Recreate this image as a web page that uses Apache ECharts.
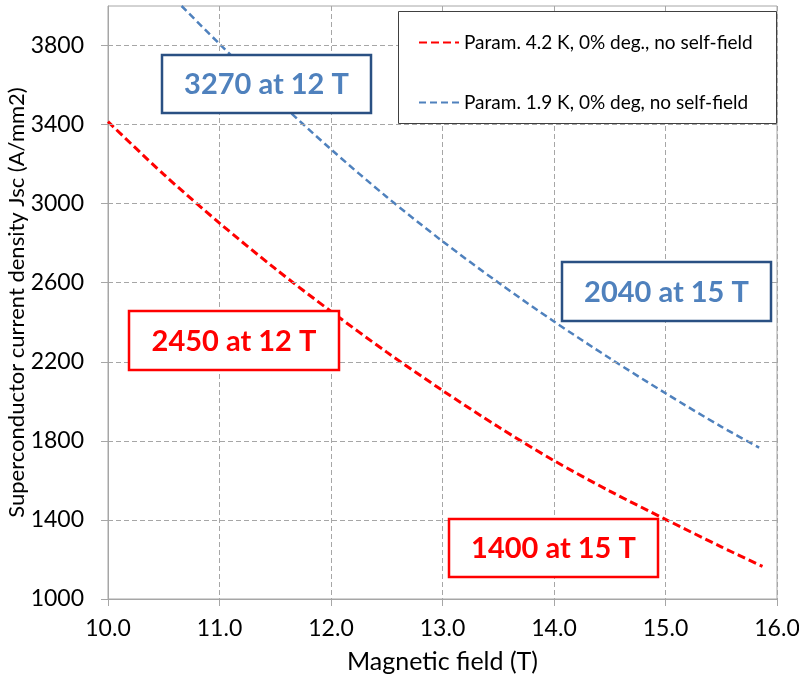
<!DOCTYPE html>
<html>
<head>
<meta charset="utf-8">
<script src="https://cdn.jsdelivr.net/npm/echarts@6/dist/echarts.min.js"></script>
<style>
html,body{margin:0;padding:0;background:#fff;}
#chart{width:799px;height:679px;}
</style>
</head>
<body>
<div id="chart"></div>
<script>
// Data
const redName = 'Param. 4.2 K, 0% deg., no self-field';
const blueName = 'Param. 1.9 K, 0% deg, no self-field';
const redField = [10, 10.5, 11, 11.5, 12, 12.5, 13, 13.5, 14, 14.5, 15, 15.5, 15.87];
const redJsc   = [3415, 3148, 2902, 2671, 2455, 2249, 2055, 1871, 1700, 1546, 1403, 1264, 1165];
const blueField = [10.66, 11, 11.5, 12, 12.5, 13, 13.5, 14, 14.5, 15, 15.5, 15.84];
const blueJsc   = [4000, 3808, 3533, 3275, 3034, 2810, 2601, 2404, 2218, 2041, 1872, 1766];
const yTicks = [1000, 1400, 1800, 2200, 2600, 3000, 3400, 3800];
const xMin = 10, xMax = 16, xStep = 1;
const yMin = 1000, yMax = 4000;
const notes = [
  {text: '3270 at 12 T', kind: 'blue'},
  {text: '2450 at 12 T', kind: 'red'},
  {text: '2040 at 15 T', kind: 'blue'},
  {text: '1400 at 15 T', kind: 'red'}
];

const FONT = 'Lato';
const gridCol = '#a6a6a6';
const pair = (xs, ys) => xs.map((x, i) => [x, ys[i]]);

const chart = echarts.init(document.getElementById('chart'), null, {renderer: 'canvas'});

// annotation box layout (pixels)
const noteBoxes = [
  {x: 162, y: 55, w: 209, h: 58},
  {x: 129, y: 311, w: 210, h: 59},
  {x: 562, y: 262, w: 209, h: 59},
  {x: 449, y: 519, w: 209, h: 58}
];
const styleOf = {
  blue: {stroke: '#2a5083', fill: '#4f81bd'},
  red: {stroke: '#ff0000', fill: '#ff0000'}
};
const graphics = [
  {type: 'rect', shape: {x: 398.5, y: 11.5, width: 378, height: 112}, style: {fill: '#fff', stroke: '#404040', lineWidth: 1}, z: 50}
];
notes.forEach((n, i) => {
  const b = noteBoxes[i];
  const s = styleOf[n.kind];
  graphics.push({type: 'rect', shape: {x: b.x, y: b.y, width: b.w, height: b.h}, style: {fill: '#fff', stroke: s.stroke, lineWidth: 2.5}, z: 50});
  graphics.push({type: 'text', x: b.x + b.w / 2, y: b.y + b.h / 2 + 1, style: {text: n.text, align: 'center', verticalAlign: 'middle', font: 'bold 29px ' + FONT, fill: s.fill}, z: 51});
});

chart.setOption({
  animation: false,
  backgroundColor: '#fff',
  grid: {left: 108, right: 22, top: 6, bottom: 80, show: true, borderColor: gridCol, borderWidth: 1, backgroundColor: 'transparent', containLabel: false, outerBoundsMode: 'none'},
  legend: {
    orient: 'vertical', left: 418, top: 33, itemWidth: 40, itemHeight: 14, itemGap: 41, padding: 0, z: 60,
    itemStyle: {opacity: 0},
    textStyle: {fontFamily: FONT, fontSize: 19, color: '#000', lineHeight: 14},
    data: [redName, blueName]
  },
  xAxis: {
    type: 'value', min: xMin, max: xMax, interval: xStep,
    name: 'Magnetic field (T)', nameLocation: 'middle', nameGap: 50, nameMoveOverlap: false,
    nameTextStyle: {fontFamily: FONT, fontSize: 25, color: '#000'},
    axisLine: {show: true, lineStyle: {color: gridCol, width: 1}},
    axisTick: {show: true, length: 7, lineStyle: {color: gridCol}},
    axisLabel: {margin: 18, fontFamily: FONT, fontSize: 23, color: '#000', formatter: v => v.toFixed(1)},
    splitLine: {show: true, lineStyle: {color: gridCol, type: [5, 3], width: 1}}
  },
  yAxis: {
    type: 'value', min: yMin, max: yMax,
    name: 'Superconductor current density Jsc (A/mm2)', nameLocation: 'middle', nameGap: 80, nameMoveOverlap: false,
    nameTextStyle: {fontFamily: FONT, fontSize: 22, color: '#000'},
    axisLine: {show: true, lineStyle: {color: gridCol, width: 1}},
    axisTick: {show: true, length: 7, lineStyle: {color: gridCol}, customValues: yTicks},
    axisLabel: {margin: 24, fontFamily: FONT, fontSize: 23, color: '#000', customValues: yTicks, formatter: v => String(v)},
    splitLine: {show: false}
  },
  graphic: graphics,
  series: [
    {
      name: redName, type: 'line', smooth: 0.3, showSymbol: false, symbol: 'none',
      data: pair(redField, redJsc), z: 3,
      lineStyle: {color: '#ff0000', width: 3, type: [8, 4]}, itemStyle: {color: '#ff0000'},
      markLine: {
        silent: true, symbol: 'none', label: {show: false}, animation: false,
        lineStyle: {color: gridCol, type: [5, 3], width: 1},
        data: yTicks.filter(v => v > yMin).map(v => ({yAxis: v}))
      }
    },
    {
      name: blueName, type: 'line', smooth: 0.3, showSymbol: false, symbol: 'none',
      data: pair(blueField, blueJsc), z: 3,
      lineStyle: {color: '#4f81bd', width: 2.5, type: [7, 4]}, itemStyle: {color: '#4f81bd'}
    }
  ]
});
</script>
</body>
</html>
